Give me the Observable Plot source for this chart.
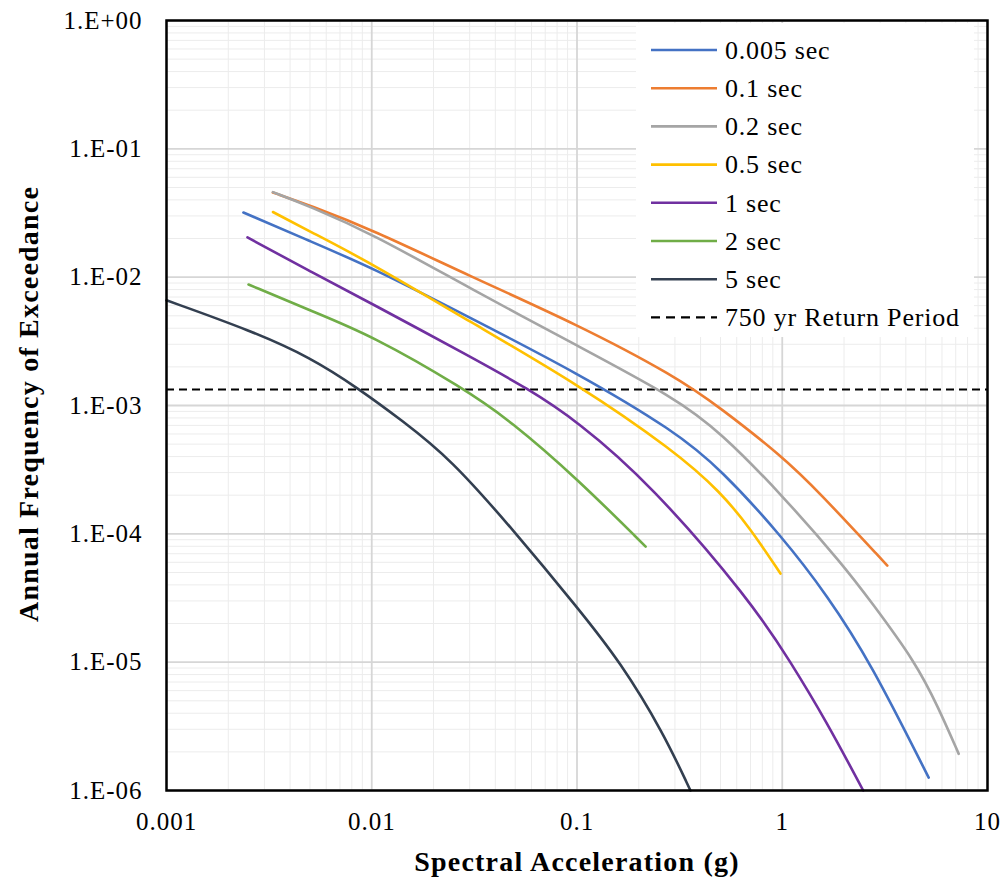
<!DOCTYPE html>
<html><head><meta charset="utf-8">
<script src="https://cdn.jsdelivr.net/npm/d3@7"></script>
<script src="https://cdn.jsdelivr.net/npm/@observablehq/plot@0.6"></script>
<style>body{margin:0;background:#fff;} #chart svg{display:block;}</style>
</head><body><div id="chart"></div>
<script>
// ---- data ----
const seriesNames = ["0.005 sec","0.1 sec","0.2 sec","0.5 sec","1 sec","2 sec","5 sec"];
const seriesColors = ["#4472C4","#ED7D31","#A5A5A5","#FFC000","#7030A0","#70AD47","#333F50"];

const sa_0005  = [0.00237, 0.005, 0.01, 0.03, 0.1, 0.3, 0.5, 1, 1.66, 2.69, 5.17];
const afe_0005 = [0.0319, 0.0191, 0.0119, 0.00485, 0.0018, 6.3e-4, 3.2e-4, 9.5e-5, 3.3e-5, 1e-5, 1.26e-6];

const sa_01  = [0.0033, 0.005, 0.01, 0.03, 0.1, 0.3, 0.5, 1, 1.48, 3.25];
const afe_01 = [0.0457, 0.0362, 0.0235, 0.0102, 0.0043, 0.0017, 9.6e-4, 4.0e-4, 2.19e-4, 5.66e-5];

const sa_02  = [0.0033, 0.005, 0.01, 0.03, 0.1, 0.3, 0.5, 1, 2, 2.69, 4.46, 5.75, 7.24];
const afe_02 = [0.046, 0.0355, 0.0219, 0.0082, 0.00293, 1.15e-3, 6.2e-4, 2.0e-4, 5.6e-5, 3.0e-5, 1e-5, 4.47e-6, 1.93e-6];

const sa_05  = [0.0033, 0.005, 0.01, 0.03, 0.1, 0.3, 0.5, 0.7, 0.98];
const afe_05 = [0.0322, 0.0227, 0.0128, 0.00451, 0.00148, 4.4e-4, 2.12e-4, 1.1e-4, 4.9e-5];

const sa_1  = [0.00248, 0.005, 0.01, 0.03, 0.0574, 0.1, 0.228, 0.7, 1.1, 1.65, 2.48];
const afe_1 = [0.0204, 0.0111, 0.00623, 0.00241, 0.00136, 7.6e-4, 2.45e-4, 3.02e-5, 1e-5, 3.4e-6, 1e-6];

const sa_2  = [0.00251, 0.005, 0.01, 0.028, 0.0474, 0.1, 0.216];
const afe_2 = [0.00877, 0.0055, 0.00351, 0.00136, 7.6e-4, 2.7e-4, 7.96e-5];

const sa_5  = [0.001, 0.00257, 0.00503, 0.0086, 0.01406, 0.0242, 0.0492, 0.1002, 0.163, 0.264, 0.357];
const afe_5 = [0.0066, 0.00384, 0.00237, 0.00136, 7.64e-4, 3.85e-4, 1.06e-4, 2.68e-5, 1e-5, 2.8e-6, 1e-6];

const returnPeriodLabel = "750 yr Return Period";
const returnPeriodAFE = 1 / 750;

const xTicks = [0.001, 0.01, 0.1, 1, 10];
const xTickLabels = ["0.001", "0.01", "0.1", "1", "10"];
const yTicks = [1, 0.1, 0.01, 0.001, 0.0001, 0.00001, 0.000001];
const yTickLabels = ["1.E+00", "1.E-01", "1.E-02", "1.E-03", "1.E-04", "1.E-05", "1.E-06"];
const minorMultipliers = [2, 3, 4, 5, 6, 7, 8, 9];

const xTitle = "Spectral Acceleration (g)";
const yTitle = "Annual Frequency of Exceedance";

// ---- build table ----
const seriesX = [sa_0005, sa_01, sa_02, sa_05, sa_1, sa_2, sa_5];
const seriesY = [afe_0005, afe_01, afe_02, afe_05, afe_1, afe_2, afe_5];
const rows = [];
seriesNames.forEach((name, s) => {
  seriesX[s].forEach((x, i) => rows.push({period: name, sa: x, afe: seriesY[s][i]}));
});
const minorX = xTicks.slice(0, -1).flatMap(t => minorMultipliers.map(m => t * m));
const minorY = yTicks.slice(1).flatMap(t => minorMultipliers.map(m => t * m));
const xLab = new Map(xTicks.map((t, i) => [t, xTickLabels[i]]));
const yLab = new Map(yTicks.map((t, i) => [t, yTickLabels[i]]));

const W = 1007, H = 882;
const serif = "'Liberation Serif', 'Times New Roman', serif";

const svg = Plot.plot({
  width: W, height: H,
  marginLeft: 166, marginRight: 20, marginTop: 20, marginBottom: 92,
  style: {fontFamily: serif, color: "#000", background: "#fff", overflow: "visible"},
  x: {type: "log", domain: [0.001, 10]},
  y: {type: "log", domain: [1e-6, 1]},
  color: {domain: seriesNames, range: seriesColors},
  marks: [
    Plot.gridX(minorX, {stroke: "#ececec", strokeOpacity: 1, strokeWidth: 1}),
    Plot.gridY(minorY, {stroke: "#ececec", strokeOpacity: 1, strokeWidth: 1}),
    Plot.gridX(xTicks, {stroke: "#d6d6d6", strokeOpacity: 1, strokeWidth: 1.8}),
    Plot.gridY(yTicks, {stroke: "#d6d6d6", strokeOpacity: 1, strokeWidth: 1.8}),
    Plot.axisX(xTicks, {tickSize: 0, tickPadding: 22, tickFormat: d => xLab.get(d), fontSize: 25, label: null}),
    Plot.axisY(yTicks, {tickSize: 0, tickPadding: 24, tickFormat: d => yLab.get(d), fontSize: 25, label: null}),
    Plot.ruleY([returnPeriodAFE], {stroke: "#000", strokeWidth: 2, strokeDasharray: "8,5"}),
    Plot.line(rows, {x: "sa", y: "afe", z: "period", stroke: "period", strokeWidth: 2.6, curve: "basis"}),
    Plot.frame({stroke: "#000", strokeWidth: 2.5})
  ]
});
document.getElementById("chart").appendChild(svg);

const sel = d3.select(svg);
sel.selectAll("g[aria-label='x-axis tick label'] text, g[aria-label='y-axis tick label'] text")
  .style("letter-spacing", "1px");

// axis titles
sel.append("text").attr("x", 577).attr("y", 871).attr("text-anchor", "middle")
  .attr("font-family", serif).attr("font-weight", "bold").attr("font-size", 28).attr("fill", "#000")
  .style("letter-spacing", "1.2px").text(xTitle);
sel.append("text").attr("transform", "translate(38,404) rotate(-90)").attr("text-anchor", "middle")
  .attr("font-family", serif).attr("font-weight", "bold").attr("font-size", 28).attr("fill", "#000")
  .style("letter-spacing", "1.2px").text(yTitle);

// legend
const lg = sel.append("g");
lg.append("rect").attr("x", 636).attr("y", 23).attr("width", 338).attr("height", 314).attr("fill", "#fff");
const entries = seriesNames.map((n, i) => ({label: n, color: seriesColors[i], dash: null}))
  .concat([{label: returnPeriodLabel, color: "#000", dash: "9,6"}]);
entries.forEach((e, i) => {
  const cy = 50 + i * 38.2;
  lg.append("line").attr("x1", 651).attr("x2", 717).attr("y1", cy).attr("y2", cy)
    .attr("stroke", e.color).attr("stroke-width", e.dash ? 2.2 : 2.6).attr("stroke-dasharray", e.dash);
  lg.append("text").attr("x", 725).attr("y", cy).attr("dy", "0.34em").attr("text-anchor", "start")
    .attr("font-family", serif).attr("font-size", 26).attr("fill", "#000")
    .style("letter-spacing", "0.8px").text(e.label);
});
</script>
</body></html>
